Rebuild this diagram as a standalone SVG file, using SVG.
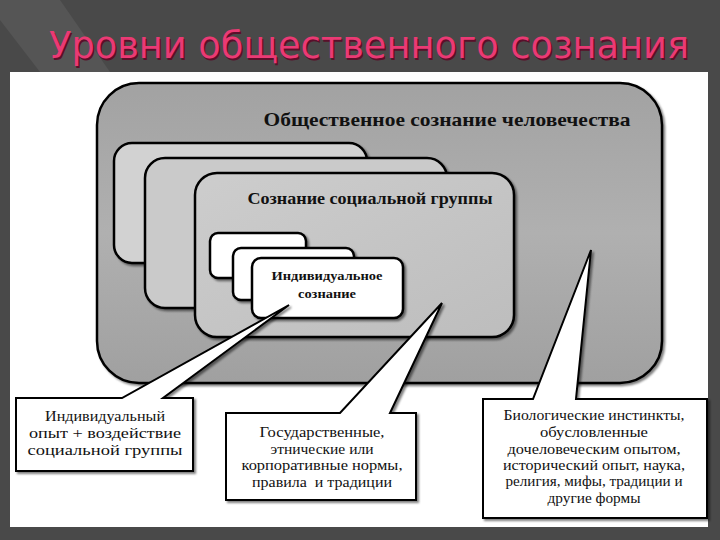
<svg xmlns="http://www.w3.org/2000/svg" width="720" height="540" viewBox="0 0 720 540">
<defs>
<linearGradient id="outerG" x1="0" y1="0" x2="0" y2="1">
<stop offset="0" stop-color="#a2a2a2"/><stop offset="0.5" stop-color="#b0b0b0"/><stop offset="1" stop-color="#a0a0a0"/>
</linearGradient>
<linearGradient id="grpG" x1="0" y1="0" x2="1" y2="1">
<stop offset="0" stop-color="#cdcdcd"/><stop offset="1" stop-color="#bdbdbd"/>
</linearGradient>
<filter id="sh" x="-10%" y="-10%" width="130%" height="130%">
<feOffset dx="2" dy="2" in="SourceAlpha" result="o"/>
<feGaussianBlur in="o" stdDeviation="1" result="b"/>
<feFlood flood-color="#000" flood-opacity="0.5"/>
<feComposite in2="b" operator="in"/>
<feMerge><feMergeNode/><feMergeNode in="SourceGraphic"/></feMerge>
</filter>
</defs>
<style>
.box{stroke:#000;stroke-width:2.5}
.lbl{font-family:"Liberation Serif","Times New Roman",serif;font-weight:bold;fill:#111;text-anchor:middle}
.cal{fill:#fff;stroke:#000;stroke-width:2;stroke-linejoin:miter}
.ct{font-family:"Liberation Serif","Times New Roman",serif;font-size:15px;fill:#111;text-anchor:middle}
.title{font-family:"DejaVu Sans","Noto Sans",sans-serif;font-size:38px;text-anchor:middle}
</style>
<rect x="0" y="0" width="720" height="540" fill="#494949"/>
<polygon points="0,0 60,0 110,72 40,72 0,20" fill="#555"/>
<text x="369" y="58" class="title" fill="#5a0f2a" dx="1.5" dy="1.5" textLength="640" lengthAdjust="spacingAndGlyphs">Уровни общественного сознания</text>
<text x="369" y="58" class="title" fill="#ea3a74" textLength="640" lengthAdjust="spacingAndGlyphs">Уровни общественного сознания</text>
<rect x="10" y="72" width="698" height="455" fill="#fff"/>

<g id="outer">
<rect x="97" y="83" width="565" height="300" rx="42" ry="42" class="box" fill="url(#outerG)" filter="url(#sh)"/>
<text x="447" y="126" class="lbl" font-size="19" textLength="367" lengthAdjust="spacingAndGlyphs">Общественное сознание человечества</text>
</g>
<g id="group1"><rect x="114" y="143" width="253" height="120" rx="18" class="box" fill="#d2d2d2" filter="url(#sh)"/></g>
<g id="group2"><rect x="145" y="158" width="302" height="150" rx="20" class="box" fill="#cacaca" filter="url(#sh)"/></g>
<g id="group3">
<rect x="195" y="173" width="319" height="164" rx="22" class="box" fill="url(#grpG)" filter="url(#sh)"/>
<text x="370" y="204" class="lbl" font-size="16" textLength="245" lengthAdjust="spacingAndGlyphs">Сознание социальной группы</text>
</g>
<g id="ind1"><rect x="210" y="233" width="96" height="45" rx="8" class="box" fill="#fff" filter="url(#sh)"/></g>
<g id="ind2"><rect x="233" y="248" width="121" height="52" rx="8" class="box" fill="#fff" filter="url(#sh)"/></g>
<g id="ind3">
<rect x="252" y="258" width="151" height="60" rx="9" class="box" fill="#fff" filter="url(#sh)"/>
<text x="327" y="280" class="lbl" font-size="13" textLength="111" lengthAdjust="spacingAndGlyphs">Индивидуальное</text>
<text x="327" y="298" class="lbl" font-size="12" textLength="58" lengthAdjust="spacingAndGlyphs">сознание</text>
</g>

<g id="connectors">
<path class="cal" filter="url(#sh)" d="M16,398 L122,398 L289,305 L163,398 L193,398 L193,471 L16,471 Z"/>
<path class="cal" filter="url(#sh)" d="M226,413 L340,413 L442,303 L390,413 L416,413 L416,500 L226,500 Z"/>
<path class="cal" filter="url(#sh)" d="M483,399 L533,399 L591,250 L576,399 L707,399 L707,518 L483,518 Z"/>
</g>

<g id="callout-left">
<text x="105" y="421" class="ct" textLength="120" lengthAdjust="spacingAndGlyphs">Индивидуальный</text>
<text x="105" y="438" class="ct" textLength="152" lengthAdjust="spacingAndGlyphs">опыт + воздействие</text>
<text x="105" y="455" class="ct" textLength="155" lengthAdjust="spacingAndGlyphs">социальной группы</text>
</g>
<g id="callout-mid">
<text x="322" y="437" class="ct" textLength="125" lengthAdjust="spacingAndGlyphs">Государственные,</text>
<text x="322" y="454" class="ct" textLength="103" lengthAdjust="spacingAndGlyphs">этнические или</text>
<text x="322" y="470" class="ct" textLength="161" lengthAdjust="spacingAndGlyphs">корпоративные нормы,</text>
<text x="322" y="487" class="ct" xml:space="preserve" textLength="140" lengthAdjust="spacingAndGlyphs">правила  и традиции</text>
</g>
<g id="callout-right">
<text x="594" y="420" class="ct" textLength="181" lengthAdjust="spacingAndGlyphs">Биологические инстинкты,</text>
<text x="594" y="437" class="ct" textLength="108" lengthAdjust="spacingAndGlyphs">обусловленные</text>
<text x="594" y="454" class="ct" textLength="173" lengthAdjust="spacingAndGlyphs">дочеловеческим опытом,</text>
<text x="594" y="470" class="ct" textLength="182" lengthAdjust="spacingAndGlyphs">исторический опыт, наука,</text>
<text x="594" y="486" class="ct" textLength="177" lengthAdjust="spacingAndGlyphs">религия, мифы, традиции и</text>
<text x="594" y="503" class="ct" textLength="93" lengthAdjust="spacingAndGlyphs">другие формы</text>
</g>
</svg>
